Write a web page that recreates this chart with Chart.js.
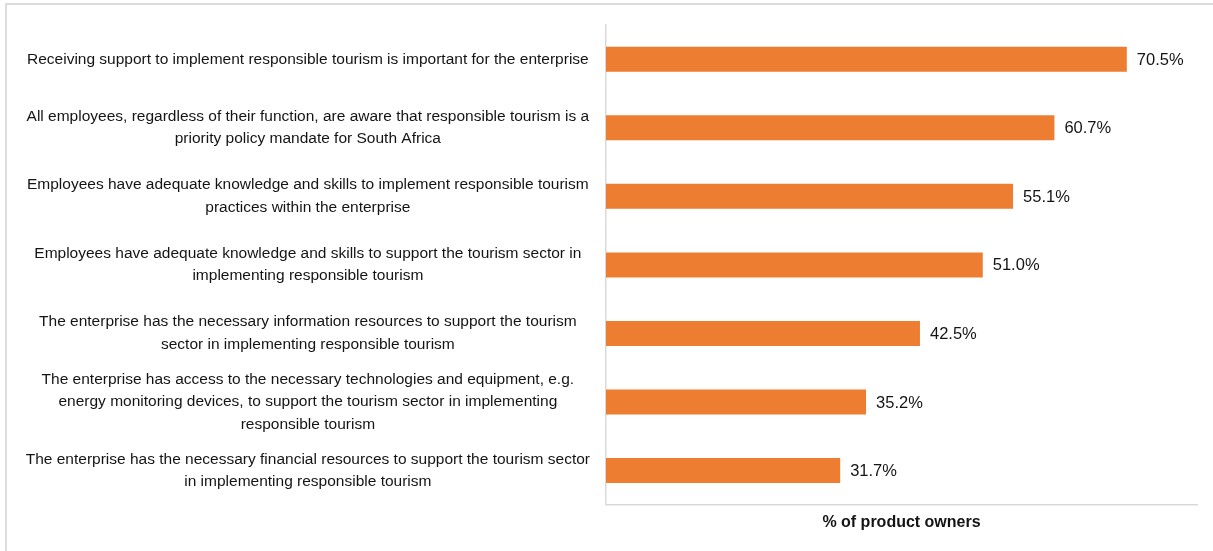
<!DOCTYPE html>
<html>
<head>
<meta charset="utf-8">
<script src="https://cdn.jsdelivr.net/npm/chart.js@4.4.0/dist/chart.umd.min.js"></script>
<style>
  html, body { margin: 0; padding: 0; background: #fff; }
  #wrap { position: relative; width: 1213px; height: 551px; overflow: hidden; }
  #cadre { position: absolute; left: 5px; top: 3px; width: 1220px; height: 600px; border: 2px solid #dcdcdc; box-sizing: border-box; }
  canvas { position: absolute; left: 0; top: 0; }
</style>
</head>
<body>
<div id="wrap">
  <div id="cadre"></div>
  <canvas id="barres" width="1213" height="551"></canvas>
</div>
<script>
// Enoncés (une entrée par barre, lignes déjà coupées)
let enonces = [
    "Receiving support to implement responsible tourism is important for the enterprise",
    ["All employees, regardless of their function, are aware that responsible tourism is a", "priority policy mandate for South Africa"],
    ["Employees have adequate knowledge and skills to implement responsible tourism", "practices within the enterprise"],
    ["Employees have adequate knowledge and skills to support the tourism sector in", "implementing responsible tourism"],
    ["The enterprise has the necessary information resources to support the tourism", "sector in implementing responsible tourism"],
    ["The enterprise has access to the necessary technologies and equipment, e.g.", "energy monitoring devices, to support the tourism sector in implementing", "responsible tourism"],
    ["The enterprise has the necessary financial resources to support the tourism sector", "in implementing responsible tourism"]
];
// % des propriétaires de produits
let pourcentages = [70.5, 60.7, 55.1, 51.0, 42.5, 35.2, 31.7];
let titreAxe = "% of product owners";

let police = "'Liberation Sans', Arial, sans-serif";

// Etiquettes de valeur au bout des barres
let etiquettesValeurs = {
    id: 'etiquettesValeurs',
    afterDatasetsDraw(chart) {
        let ctx = chart.ctx;
        let meta = chart.getDatasetMeta(0);
        ctx.save();
        ctx.font = "16.5px " + police;
        ctx.fillStyle = "#141414";
        ctx.textAlign = "left";
        ctx.textBaseline = "middle";
        meta.data.forEach(function (barre, i) {
            ctx.fillText(pourcentages[i].toFixed(1) + "%", barre.x + 10, barre.y + 1);
        });
        ctx.restore();
    }
};

let ctx = document.getElementById('barres').getContext('2d');
let chart = new Chart(ctx, {
    type: 'bar',
    data: {
        labels: enonces,
        datasets: [{
            label: titreAxe,
            data: pourcentages,
            backgroundColor: '#ED7D31',
            borderWidth: 0,
            barPercentage: 0.365,
            categoryPercentage: 1
        }]
    },
    options: {
        indexAxis: 'y',
        responsive: false,
        animation: false,
        layout: { padding: { top: 25, right: 16, bottom: 19, left: 0 } },
        plugins: {
            legend: { display: false },
            tooltip: { enabled: false }
        },
        scales: {
            x: {
                min: 0,
                max: 80,
                grid: { display: false },
                border: { display: true, color: '#d9d9d9', width: 1.5 },
                ticks: { display: false },
                title: {
                    display: true,
                    text: titreAxe,
                    color: '#141414',
                    font: { family: police, size: 16, weight: 'bold' },
                    padding: { top: 0, bottom: 0 }
                }
            },
            y: {
                grid: { display: false, drawTicks: false },
                border: { display: true, color: '#d9d9d9', width: 1.5 },
                ticks: {
                    color: '#141414',
                    crossAlign: 'center',
                    padding: 16,
                    autoSkip: false,
                    font: { family: police, size: 15.5, lineHeight: 1.45 }
                },
                afterFit: function (axe) {
                    axe.width = 606;
                    // pas de marge ajoutée en haut/bas pour les étiquettes
                    axe.paddingTop = 0;
                    axe.paddingBottom = 0;
                }
            }
        }
    },
    plugins: [etiquettesValeurs]
});
</script>
</body>
</html>
